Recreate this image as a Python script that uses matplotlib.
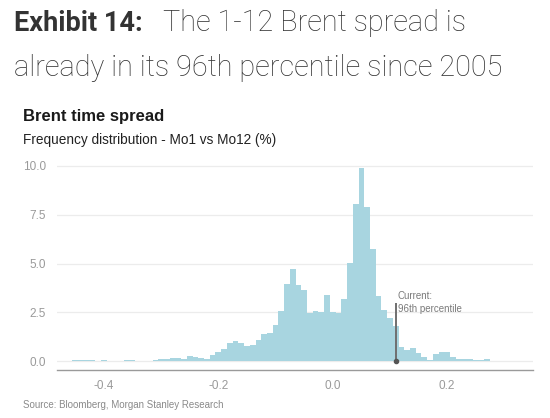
import matplotlib
matplotlib.use("Agg")
import matplotlib.pyplot as plt
import numpy as np

# Histogram bins (centres, %), bin width 0.01
bin_centers = [round(-0.46 + 0.01 * i, 2) for i in range(79)]  # -0.46 .. 0.32
freq = [
    0.00, 0.03, 0.05, 0.03, 0.07, 0.02, 0.05, 0.02, 0.00, 0.02,   # -0.46 .. -0.37
    0.04, 0.05, 0.02, 0.00, 0.02, 0.05, 0.08, 0.10, 0.18, 0.14,   # -0.36 .. -0.27
    0.10, 0.26, 0.19, 0.15, 0.10, 0.31, 0.48, 0.60, 0.90, 1.04,   # -0.26 .. -0.17
    0.90, 0.78, 0.80, 1.10, 1.40, 1.45, 1.84, 2.55, 3.95, 4.72,   # -0.16 .. -0.07
    3.90, 3.63, 2.48, 2.58, 2.53, 3.40, 2.50, 2.48, 3.17, 5.03,   # -0.06 .. 0.03
    8.03, 9.92, 7.88, 5.76, 3.35, 2.60, 2.20, 1.78, 0.72, 0.58,   # 0.04 .. 0.13
    0.68, 0.42, 0.22, 0.05, 0.35, 0.45, 0.45, 0.22, 0.09, 0.09,   # 0.14 .. 0.23
    0.09, 0.03, 0.05, 0.12, 0.02, 0.00, 0.00, 0.02, 0.02,         # 0.24 .. 0.32
]
bin_width = 0.01
current_value = 0.11
x_ticks = [-0.4, -0.2, 0.0, 0.2]
x_tick_labels = ["-0.4", "-0.2", "0.0", "0.2"]
y_ticks = [0.0, 2.5, 5.0, 7.5, 10.0]
y_tick_labels = ["0.0", "2.5", "5.0", "7.5", "10.0"]

W, H = 550, 418
fig = plt.figure(figsize=(W / 100, H / 100), dpi=100)
fig.patch.set_facecolor("white")

ax = fig.add_axes([57 / W, 1 - 370 / H, (533 - 57) / W, (370 - 165) / H])
ax.set_facecolor("white")
ax.bar(bin_centers, freq, width=bin_width, color="#a8d5e0", edgecolor="none",
       linewidth=0, zorder=2)
ax.set_xlim(-0.482, 0.35)
ax.set_ylim(-0.46, 10.05)
ax.set_yticks(y_ticks)
ax.set_yticklabels(y_tick_labels)
ax.set_xticks(x_ticks)
ax.set_xticklabels(x_tick_labels)
ax.grid(axis="y", color="#ececec", linewidth=0.9, zorder=0)
ax.set_axisbelow(True)
for s in ["top", "right", "left"]:
    ax.spines[s].set_visible(False)
ax.spines["bottom"].set_color("#9a9a9a")
ax.spines["bottom"].set_linewidth(1.0)
ax.tick_params(axis="both", length=0, labelsize=8.5, labelcolor="#9a9a9a")
ax.tick_params(axis="y", pad=8)
ax.tick_params(axis="x", pad=7)
for lab in ax.get_xticklabels() + ax.get_yticklabels():
    lab.set_family("Liberation Sans")

# current marker
ax.plot([current_value, current_value], [0.0, 3.0], color="#6f6f6f", linewidth=1.4,
        zorder=3, solid_capstyle="butt")
ax.plot([current_value], [0.0], marker="o", markersize=3, color="#555555", zorder=4)
ax.text(current_value + 0.004, 3.35, "Current:", fontsize=7, color="#7a7a7a",
        family="Liberation Sans", va="center", ha="left")
ax.text(current_value + 0.004, 2.65, "96th percentile", fontsize=7, color="#7a7a7a",
        family="Liberation Sans", va="center", ha="left")

# Titles
fig.text(14 / W, 1 - 31 / H, "Exhibit 14:", fontsize=19.5, fontweight="bold",
         family="Roboto", color="#333333", va="baseline")
fig.text(163 / W, 1 - 31 / H, "The 1-12 Brent spread is", fontsize=20.8,
         fontweight="light", family="Roboto", color="#333333", va="baseline")
fig.text(14 / W, 1 - 76 / H, "already in its 96th percentile since 2005", fontsize=20.8,
         fontweight="light", family="Roboto", color="#333333", va="baseline")

fig.text(23 / W, 1 - 121 / H, "Brent time spread", fontsize=12, fontweight="bold",
         family="Liberation Sans", color="#1a1a1a", va="baseline")
fig.text(23 / W, 1 - 144 / H, "Frequency distribution - Mo1 vs Mo12 (%)", fontsize=9.8,
         family="Liberation Sans", color="#222222", va="baseline")
fig.text(23 / W, 1 - 408 / H, "Source: Bloomberg, Morgan Stanley Research", fontsize=7,
         family="Liberation Sans", color="#8a8a8a", va="baseline")

fig.savefig("out.png", dpi=100, facecolor="white")
